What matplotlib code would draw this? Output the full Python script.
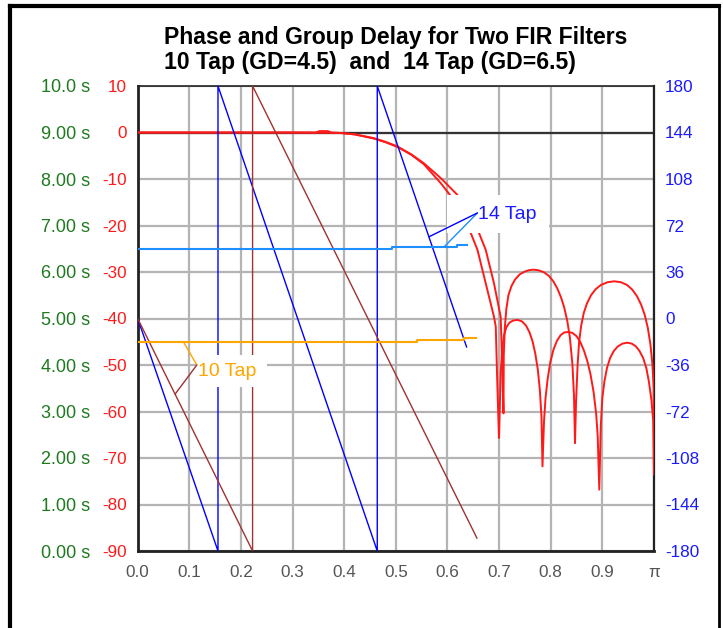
import numpy as np
import matplotlib
matplotlib.use("Agg")
import matplotlib.pyplot as plt
from matplotlib.patches import Rectangle
from matplotlib.lines import Line2D

plt.rcParams['font.family'] = ['Liberation Sans', 'DejaVu Sans']
plt.rcParams['axes.unicode_minus'] = False

# ---- frequency axis (fraction of pi) ----
x_ticks = [0.0, 0.1, 0.2, 0.3, 0.4, 0.5, 0.6, 0.7, 0.8, 0.9, 1.0]
x_tick_labels = ['0.0', '0.1', '0.2', '0.3', '0.4', '0.5', '0.6', '0.7', '0.8', '0.9', 'π']

# ---- magnitude responses (dB) ----
freq_mag10 = [0.0, 0.10, 0.20, 0.30, 0.345, 0.352, 0.368, 0.375, 0.393, 0.42, 0.457,
              0.48, 0.503, 0.53, 0.554, 0.587, 0.619, 0.640, 0.661, 0.674, 0.690,
              0.703, 0.706, 0.7085,
              0.709, 0.711, 0.714, 0.718, 0.724, 0.731, 0.740, 0.750, 0.758, 0.766,
              0.775, 0.786, 0.796, 0.805, 0.813, 0.820, 0.826, 0.832, 0.837, 0.842,
              0.845, 0.847,
              0.849, 0.852, 0.855, 0.859, 0.864, 0.870, 0.878, 0.887, 0.897, 0.910,
              0.923, 0.936, 0.948, 0.958, 0.967, 0.975, 0.982, 0.988, 0.993, 0.997,
              0.9995, 1.0]
mag10_db = [0.0, 0.0, 0.0, 0.0, 0.0, 0.3, 0.3, 0.0, -0.1, -0.4, -1.2,
            -2.0, -3.0, -4.7, -6.6, -9.8, -13.4, -17.4, -21.6, -25.2, -32.4,
            -39.6, -50.0, -60.4,
            -48.0, -42.0, -38.0, -35.0, -33.0, -31.6, -30.5, -29.9, -29.6, -29.5,
            -29.6, -30.0, -30.8, -32.0, -33.6, -35.5, -37.6, -40.5, -44.0, -49.9,
            -56.5, -66.8,
            -58.0, -50.0, -45.0, -41.5, -38.8, -36.8, -35.0, -33.7, -32.8, -32.2,
            -32.0, -32.2, -32.8, -33.8, -35.2, -37.0, -39.2, -42.0, -45.5, -50.0,
            -55.0, -63.9]

freq_mag14 = [0.0, 0.10, 0.20, 0.30, 0.393, 0.42, 0.457, 0.48, 0.503, 0.53, 0.554,
              0.587, 0.616, 0.630, 0.645, 0.658, 0.674, 0.690, 0.6935, 0.6965, 0.6998,
              0.703, 0.706, 0.7095, 0.714, 0.720, 0.727, 0.7355, 0.744, 0.752, 0.759,
              0.765, 0.770, 0.775, 0.779, 0.782, 0.784,
              0.787, 0.790, 0.794, 0.799, 0.805, 0.812, 0.819, 0.826, 0.834, 0.842,
              0.850, 0.857, 0.864, 0.871, 0.877, 0.883, 0.888, 0.891, 0.894,
              0.897, 0.900, 0.904, 0.909, 0.915, 0.922, 0.930, 0.939, 0.948, 0.957,
              0.965, 0.972, 0.979, 0.985, 0.990, 0.995, 0.9985, 1.0]
mag14_db = [0.0, 0.0, 0.0, 0.0, -0.1, -0.4, -1.3, -2.1, -3.1, -4.8, -6.8,
            -10.9, -15.0, -18.2, -21.6, -25.2, -32.4, -39.6, -41.7, -53.9, -65.7,
            -52.0, -46.5, -43.6, -41.9, -40.9, -40.45, -40.3, -40.6, -41.5, -43.0,
            -45.0, -47.5, -51.0, -55.5, -61.0, -71.8,
            -62.0, -57.0, -53.0, -49.5, -46.8, -44.8, -43.6, -43.0, -42.9, -43.1,
            -43.8, -45.0, -46.8, -49.2, -52.0, -55.8, -60.5, -65.4, -76.8,
            -63.0, -57.0, -53.5, -50.6, -48.5, -47.0, -46.0, -45.4, -45.2, -45.4,
            -46.0, -47.0, -48.5, -50.6, -53.5, -57.5, -62.0, -73.5]

# ---- wrapped phase (degrees) ----
freq_ph10 = [0.0, 0.2225, 0.2225, 0.657]
phase10_deg = [0, -180, 180, -170]
freq_ph14 = [0.0, 0.1555, 0.1555, 0.4640, 0.4640, 0.637]
phase14_deg = [0, -180, 180, -180, 180, -22]

# ---- group delay (samples shown as seconds) ----
freq_gd10 = [0.0, 0.541, 0.541, 0.632, 0.632, 0.655]
gd10_s = [4.5, 4.5, 4.54, 4.54, 4.59, 4.59]
freq_gd14 = [0.0, 0.493, 0.493, 0.619, 0.619, 0.637]
gd14_s = [6.5, 6.5, 6.535, 6.535, 6.57, 6.57]

db_ticks = list(range(-90, 11, 10))
phase_ticks = list(range(-180, 181, 36))
gd_ticks = list(range(0, 11))
gd_tick_labels = ['%.2f s' % v if v < 10 else '%.1f s' % v for v in gd_ticks]

C_RED = '#ff1a1a'
C_BLUE = '#1a1aff'
C_GREEN = '#1f7a1f'
C_BROWN = '#a03232'
C_LBLUE = '#1e8fff'
C_ORANGE = '#ffa500'
C_GRID = '#b4b4b4'

W, H = 723, 628
fig = plt.figure(figsize=(W / 100, H / 100), dpi=100)
fig.patch.set_facecolor('white')

L, R, T, B = 137.7, 654.0, 86.0, 551.0
rect = [L / W, 1 - B / H, (R - L) / W, (B - T) / H]

ax = fig.add_axes(rect)          # magnitude (dB), red labels
ax.set_xlim(0, 1)
ax.set_ylim(-90, 10)
ax.set_xticks(x_ticks)
ax.set_xticklabels(x_tick_labels)
ax.set_yticks(db_ticks)
ax.grid(True, color=C_GRID, lw=1.6)
ax.set_axisbelow(True)
ax.tick_params(axis='both', length=0, labelsize=12.3)
ax.tick_params(axis='y', colors=C_RED, pad=8)
ax.tick_params(axis='x', colors='#555555', pad=10)
for s in ax.spines.values():
    s.set_color('#222222')
    s.set_linewidth(1.2)
ax.spines['left'].set_linewidth(2.0)
ax.spines['bottom'].set_linewidth(2.0)
ax.spines['right'].set_linewidth(1.6)

ax.axhline(0, color='#333333', lw=1.6, zorder=1.5)
ax.plot(freq_mag10, mag10_db, color=C_RED, lw=1.4, zorder=3)
ax.plot(freq_mag14, mag14_db, color=C_RED, lw=1.4, zorder=3)

axp = ax.twinx()                 # phase (degrees), blue labels on the right
axp.set_ylim(-180, 180)
axp.set_yticks(phase_ticks)
axp.tick_params(axis='y', length=0, colors=C_BLUE, labelsize=12.3, pad=8)
for s in axp.spines.values():
    s.set_visible(False)
axp.plot(freq_ph14, phase14_deg, color='#0000ff', lw=1.0)
axp.plot(freq_ph10, phase10_deg, color=C_BROWN, lw=1.0)

axg = ax.twinx()                 # group delay (s), green labels on the far left
axg.set_ylim(0, 10)
axg.yaxis.set_ticks_position('left')
axg.set_yticks(gd_ticks)
axg.set_yticklabels(gd_tick_labels)
axg.tick_params(axis='y', length=0, colors=C_GREEN, labelsize=13.0, pad=34)
for s in axg.spines.values():
    s.set_visible(False)
axg.plot(freq_gd14, gd14_s, color=C_LBLUE, lw=1.5)
axg.plot(freq_gd10, gd10_s, color=C_ORANGE, lw=1.5)

# ---- labels with white boxes, and leader lines to the curves ----
axg.add_patch(Rectangle((0.115, -54.7), 0.136, 6.9, transform=ax.transData,
                        facecolor='white', edgecolor='none', zorder=4))
axg.add_patch(Rectangle((0.600, -21.6), 0.196, 8.2, transform=ax.transData,
                        facecolor='white', edgecolor='none', zorder=4))

start10 = (0.1145, -50.0)
f_a, f_b = 0.0885, 0.0724
axg.annotate('', xy=(f_a, np.interp(f_a, freq_gd10, gd10_s)), xycoords=axg.transData,
             xytext=start10, textcoords=ax.transData,
             arrowprops=dict(arrowstyle='-', color=C_ORANGE, lw=1.0, shrinkA=0, shrinkB=0),
             zorder=5)
axg.annotate('', xy=(f_b, np.interp(f_b, freq_ph10[:2], phase10_deg[:2])), xycoords=axp.transData,
             xytext=start10, textcoords=ax.transData,
             arrowprops=dict(arrowstyle='-', color=C_BROWN, lw=1.0, shrinkA=0, shrinkB=0),
             zorder=5)
axg.text(0.117, -51.4, '10 Tap', transform=ax.transData, color=C_ORANGE,
         fontsize=14, va='center', ha='left', zorder=6)

start14 = (0.658, -17.3)
f_c, f_d = 0.593, 0.564
axg.annotate('', xy=(f_c, np.interp(f_c, freq_gd14, gd14_s)), xycoords=axg.transData,
             xytext=start14, textcoords=ax.transData,
             arrowprops=dict(arrowstyle='-', color=C_LBLUE, lw=1.0, shrinkA=0, shrinkB=0),
             zorder=5)
axg.annotate('', xy=(f_d, np.interp(f_d, freq_ph14[4:], phase14_deg[4:])), xycoords=axp.transData,
             xytext=start14, textcoords=ax.transData,
             arrowprops=dict(arrowstyle='-', color='#0000ff', lw=1.0, shrinkA=0, shrinkB=0),
             zorder=5)
axg.text(0.6585, -17.7, '14 Tap', transform=ax.transData, color=C_BLUE,
         fontsize=14, va='center', ha='left', zorder=6)

ax.set_title('Phase and Group Delay for Two FIR Filters\n10 Tap (GD=4.5)  and  14 Tap (GD=6.5)',
             fontsize=16.6, fontweight='bold', linespacing=1.12, pad=12,
             multialignment='left')

# ---- outer frame ----
fig.add_artist(Line2D([10 / W, 10 / W], [0, 1 - 6 / H], color='black', lw=3))
fig.add_artist(Line2D([10 / W, 719 / W], [1 - 6 / H, 1 - 6 / H], color='black', lw=3))
fig.add_artist(Line2D([719 / W, 719 / W], [0, 1 - 6 / H], color='black', lw=2))

fig.savefig('out.png', dpi=100, facecolor='white')
